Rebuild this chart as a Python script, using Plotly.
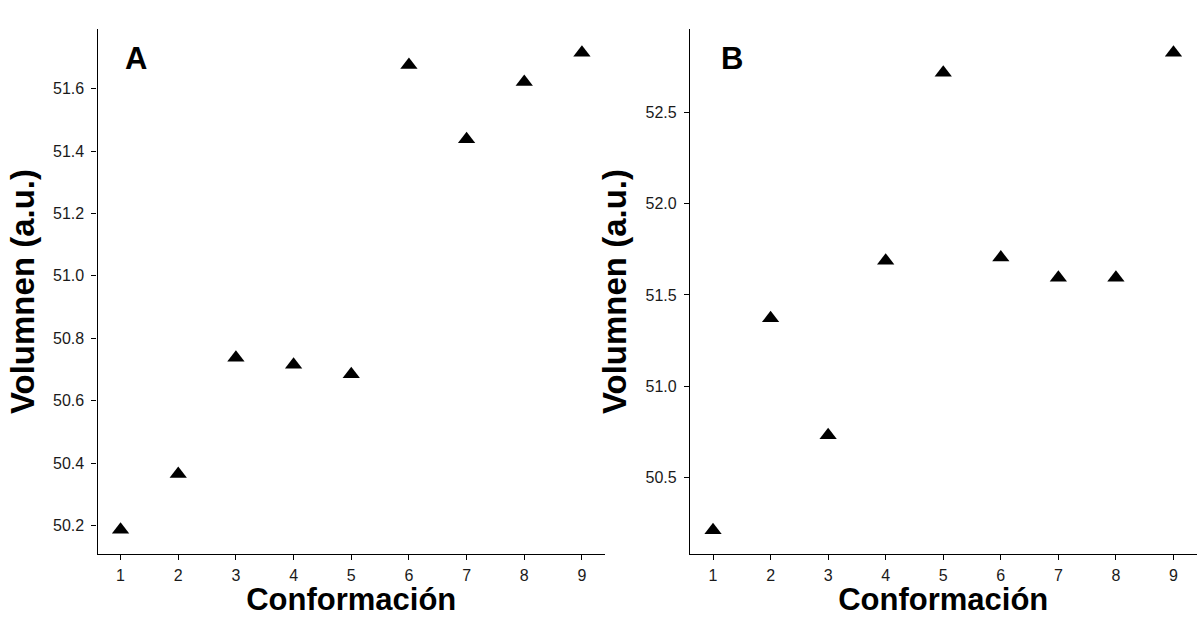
import plotly.graph_objects as go

conformacion = [1, 2, 3, 4, 5, 6, 7, 8, 9]
volumen_A = [50.187, 50.365, 50.738, 50.715, 50.685, 51.676, 51.438, 51.621, 51.715]
volumen_B = [50.209, 51.372, 50.730, 51.688, 52.720, 51.705, 51.595, 51.595, 52.829]
panel_labels = ["A", "B"]
x_title = "Conformación"
y_title = "Volumnen (a.u.)"

W, H = 1202, 617
fig = go.Figure()

font_family = "Liberation Sans, Arial, Helvetica, sans-serif"

def px_x(p):
    return p / W

def px_y(p):
    return 1 - p / H

y_dom = [px_y(554), px_y(29)]
dom_A = [px_x(97.5), px_x(605)]
dom_B = [px_x(690), px_x(1196.5)]

marker = dict(symbol="triangle-up", size=15, color="black")
fig.add_trace(go.Scatter(x=conformacion, y=volumen_A, mode="markers", marker=marker,
                         xaxis="x", yaxis="y", showlegend=False))
fig.add_trace(go.Scatter(x=conformacion, y=volumen_B, mode="markers", marker=marker,
                         xaxis="x2", yaxis="y2", showlegend=False))

axis_common = dict(showline=True, linecolor="black", linewidth=1.3, ticks="outside",
                   ticklen=5, tickwidth=1.3, tickcolor="black", showgrid=False,
                   zeroline=False, tickfont=dict(size=16, color="#1a1a1a", family=font_family))

xt = dict(text="<b>%s</b>" % x_title, font=dict(size=31, color="black"), standoff=12)
yt = dict(text="<b>%s</b>" % y_title, font=dict(size=33, color="black"), standoff=8)

fig.update_layout(
    width=W, height=H,
    margin=dict(l=0, r=0, t=0, b=0),
    paper_bgcolor="white", plot_bgcolor="white",
    font=dict(family=font_family),
    xaxis=dict(domain=dom_A, anchor="y", range=[0.6, 9.4], tickmode="array",
               tickvals=conformacion, ticklabelstandoff=2, title=xt, **axis_common),
    yaxis=dict(domain=y_dom, anchor="x", range=[50.109, 51.791],
               tickvals=[50.2, 50.4, 50.6, 50.8, 51.0, 51.2, 51.4, 51.6], tickformat=".1f",
               ticklabelstandoff=4, title=yt, **axis_common),
    xaxis2=dict(domain=dom_B, anchor="y2", range=[0.6, 9.4], tickmode="array",
                tickvals=conformacion, ticklabelstandoff=2, title=xt, **axis_common),
    yaxis2=dict(domain=y_dom, anchor="x2", range=[50.078, 52.96],
                tickvals=[50.5, 51.0, 51.5, 52.0, 52.5], tickformat=".1f",
                ticklabelstandoff=4, title=yt, **axis_common),
)

for lab, xpix in [(panel_labels[0], 136), (panel_labels[1], 732)]:
    fig.add_annotation(text="<b>%s</b>" % lab, xref="paper", yref="paper",
                       x=px_x(xpix), y=px_y(59), xanchor="center", yanchor="middle",
                       showarrow=False, font=dict(size=31, color="black", family=font_family))

fig.write_html("out.html")
